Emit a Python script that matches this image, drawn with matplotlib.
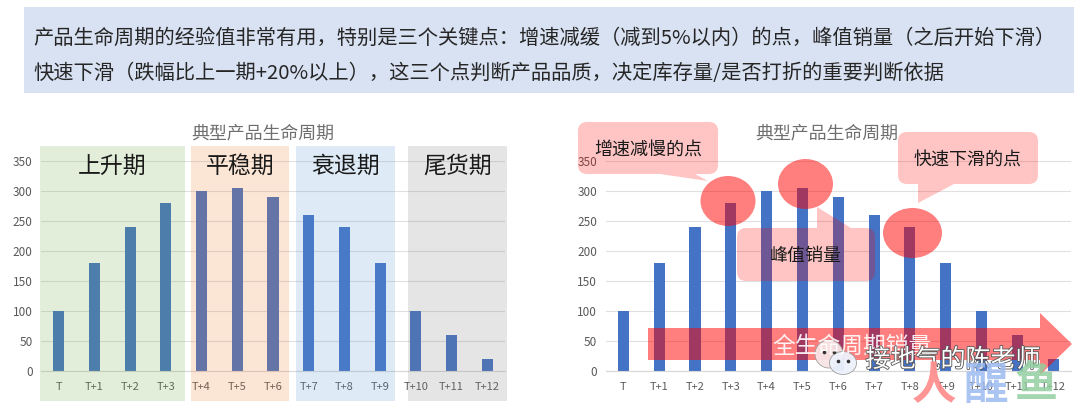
import matplotlib
matplotlib.use('Agg')
import matplotlib.pyplot as plt
import matplotlib.patheffects as pe
from matplotlib.patches import Rectangle, Ellipse, FancyBboxPatch, Polygon

plt.rcParams['font.family'] = ['Noto Sans CJK SC', 'DejaVu Sans']

W, H = 1080, 408

periods = ['T', 'T+1', 'T+2', 'T+3', 'T+4', 'T+5', 'T+6', 'T+7', 'T+8', 'T+9', 'T+10', 'T+11', 'T+12']
sales = [100, 180, 240, 280, 300, 305, 290, 260, 240, 180, 100, 60, 20]
y_ticks = [0, 50, 100, 150, 200, 250, 300, 350]
chart_title = '典型产品生命周期'
line1 = '产品生命周期的经验值非常有用，特别是三个关键点：增速减缓（减到5%以内）的点，峰值销量（之后开始下滑）'
line2 = '快速下滑（跌幅比上一期+20%以上），这三个点判断产品品质，决定库存量/是否打折的重要判断依据'
phases = ['上升期', '平稳期', '衰退期', '尾货期']

fig = plt.figure(figsize=(W / 100, H / 100), dpi=100, facecolor='white')


def chart(left, right):
    # axes placed in pixels, y=0 at 371 and y=350 at 161
    ax = fig.add_axes([left / W, 1 - 371 / H, (right - left) / W, 210 / H], facecolor='none', zorder=1)
    ax.bar(periods, sales, width=0.31, color='#4472C4', zorder=2)
    ax.set_xlim(-0.5, 12.5)
    ax.set_ylim(0, 350)
    ax.set_yticks(y_ticks)
    ax.grid(axis='y', color='#E0E0E0', lw=0.8, zorder=1)
    ax.set_axisbelow(True)
    for s in ['top', 'left', 'right']:
        ax.spines[s].set_visible(False)
    ax.spines['bottom'].set_color('#D8D8D8')
    ax.tick_params(length=0, colors='#595959')
    ax.tick_params(axis='x', labelsize=8, pad=8)
    ax.tick_params(axis='y', labelsize=8.5, pad=6)
    return ax


chart(41, 505)
chart(605.5, 1071)

# overlay in pixel coordinates, y down
ov = fig.add_axes([0, 0, 1, 1], facecolor='none', zorder=2)
ov.set_xlim(0, W)
ov.set_ylim(H, 0)
ov.axis('off')

# top banner
ov.add_patch(Rectangle((24, 7), 1050, 86, color='#D9E2F3', lw=0))
ov.text(33, 38, line1, fontsize=14.6, color='#262626', va='center')
ov.text(33, 74, line2, fontsize=14.6, color='#262626', va='center')

ov.text(263, 133, chart_title, fontsize=12.9, color='#6E6E6E', ha='center', va='center')
ov.text(827, 133, chart_title, fontsize=12.9, color='#6E6E6E', ha='center', va='center')

# phase bands sit over the bars, that is what tints them
bands = [(40, 185, '#70AD47'), (191, 289, '#ED7D31'), (296, 395, '#5B9BD5'), (408, 507, '#7F7F7F')]
for (x0, x1, c), name in zip(bands, phases):
    ov.add_patch(Rectangle((x0, 146), x1 - x0, 255, color=c, alpha=0.2, lw=0))
    ov.text((x0 + x1) / 2, 166, name, fontsize=16.5, color='#1A1A1A', ha='center', va='center')


def callout(x0, y0, x1, y1, tail, label):
    ov.add_patch(FancyBboxPatch((x0 + 9, y0 + 9), x1 - x0 - 18, y1 - y0 - 18,
                                boxstyle='round,pad=9,rounding_size=9', color='#FF0000', alpha=0.23, lw=0))
    ov.add_patch(Polygon(tail, closed=True, color='#FF0000', alpha=0.23, lw=0))
    ov.text((x0 + x1) / 2, (y0 + y1) / 2 + 2, label, fontsize=13, color='#1A1A1A', ha='center', va='center')


callout(578, 122, 718, 174, [(660, 174), (695, 174), (708, 181)], '增速减慢的点')
callout(737, 228, 875, 281, [(817, 228), (851, 228), (817, 207)], '峰值销量')
callout(898, 132, 1038, 184, [(918, 184), (954, 184), (918, 203)], '快速下滑的点')

for cx, cy, rx, ry in [(728, 201, 27.5, 25), (805.5, 184, 27.5, 25), (912.5, 233, 29.5, 25)]:
    ov.add_patch(Ellipse((cx, cy), rx * 2, ry * 2, color='#FF0000', alpha=0.5, lw=0))

ov.add_patch(Polygon([(648, 328), (1040, 328), (1040, 313), (1072, 344), (1040, 375), (1040, 360), (648, 360)],
                     closed=True, color='#FF0000', alpha=0.5, lw=0))
ov.text(852, 346, '全生命周期销量', fontsize=16.4, color='#FFFFFF', ha='center', va='center', alpha=0.9)

# watermark
for cx, cy, w, h, c in [(829, 354, 28, 28, '#F8E4E4'), (843, 363, 27, 23, '#EEF2FB')]:
    ov.add_patch(Ellipse((cx, cy), w, h, facecolor=c, edgecolor='#999999', lw=0.6, alpha=0.95))
    ov.plot([cx - 5, cx + 5], [cy - 2, cy - 2], ls='none', marker='o', ms=1.6, color='#333333')
ov.text(953, 360, '接地气的陈老师', fontsize=18, color='#FFFFFF', ha='center', va='center',
        path_effects=[pe.withStroke(linewidth=1.2, foreground='#555555')])
ov.text(934, 386, '人', fontsize=32, color='#FF8A8A', ha='center', va='center', fontweight='bold', alpha=0.9)
ov.text(986, 386, '醒', fontsize=32, color='#9DBBF2', ha='center', va='center', fontweight='bold', alpha=0.85)
logo = ov.text(1036, 384, '鱼', fontsize=31, color='#93CFA0', ha='center', va='center', fontweight='bold', alpha=0.85)
# the top of this glyph is hidden in the reference
logo.set_clip_path(Rectangle((1000, 377), 70, 31, transform=ov.transData))

fig.savefig('out.png', dpi=100)
